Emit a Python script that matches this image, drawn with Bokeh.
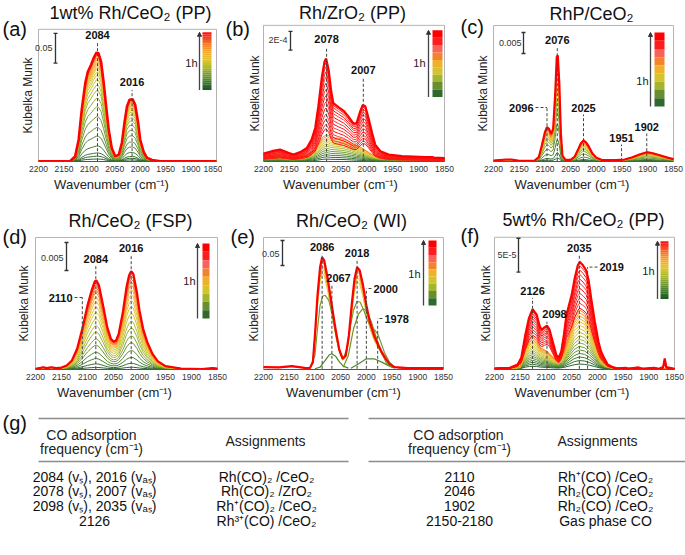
import math
from bokeh.plotting import figure
from bokeh.layouts import column, row
from bokeh.models import Range1d, FixedTicker, Label, Arrow, NormalHead
from bokeh.embed import file_html
from bokeh.resources import INLINE
from bokeh.core.properties import value

FONT = "Liberation Sans"
TICKS = [2200, 2150, 2100, 2050, 2000, 1950, 1900, 1850]

# ---------------- data ----------------
# (a) 1wt% Rh/CeO2 (PP): final spectrum after 1 h, and fractions of earlier spectra
A_WN = [2200, 2150, 2138, 2128, 2121, 2115, 2108, 2103, 2097, 2092, 2086, 2082, 2077, 2072, 2067, 2062,
        2056, 2049, 2042, 2036, 2031, 2026, 2021, 2015, 2010, 2004, 2000, 1993, 1987, 1977, 1960, 1850]
A_KM = [0, 0, 0, 0.008, 0.036, 0.086, 0.131, 0.150, 0.161, 0.172, 0.182, 0.181, 0.167, 0.133, 0.092, 0.053,
        0.022, 0.008, 0.011, 0.031, 0.064, 0.092, 0.103, 0.104, 0.095, 0.064, 0.036, 0.015, 0.006, 0.002, 0, 0]
A_FR = [0.02, 0.046, 0.076, 0.14, 0.23, 0.31, 0.41, 0.5, 0.58, 0.65, 0.70, 0.75, 0.79, 0.82, 0.85, 0.87,
        0.89, 0.91, 0.93, 0.95, 0.965, 0.98]
A_PEAKS = [2084, 2016]

# (b) Rh/ZrO2 (PP)  (units 1E-4)
B_WN = [2200, 2184, 2168, 2152, 2142, 2129, 2116, 2107, 2100, 2094, 2087, 2082, 2079, 2074, 2069, 2065, 2055,
        2045, 2036, 2026, 2020, 2013, 2008, 2003, 1997, 1990, 1984, 1974, 1958, 1932, 1887, 1874, 1870, 1850]
B_KM = [0.88, 1.12, 1.30, 0.95, 0.77, 1.02, 1.47, 2.35, 3.57, 5.85, 9.0, 10.57, 10.92, 9.7, 7.42, 6.2, 5.78,
        5.39, 4.8, 4.03, 4.1, 5.32, 6.02, 5.85, 4.62, 3.05, 1.82, 1.12, 0.77, 0.6, 0.49, 0.5, 0.45, 0.39]
B_FR = [0.32, 0.36, 0.41, 0.46, 0.52, 0.58, 0.64, 0.70, 0.76, 0.82, 0.87, 0.92, 0.96]
B_EARLY_WN = [2200, 2170, 2145, 2120, 2105, 2095, 2085, 2078, 2070, 2060, 2050, 2040, 2030, 2020, 2010, 2000,
              1990, 1975, 1950, 1900, 1850]
B_EARLY_KM = [0.6, 0.66, 0.42, 0.6, 1.12, 1.82, 2.62, 2.87, 2.62, 2.52, 2.45, 2.27, 2.0, 1.71, 1.47, 1.12,
              0.77, 0.52, 0.38, 0.31, 0.31]
B_EARLY_FR = [0.1, 0.18, 0.26, 0.34, 0.42, 0.5, 0.58, 0.65, 0.72, 0.79, 0.86, 0.93, 1.0]
B_PEAKS = [2078, 2007]

# (c) RhP/CeO2  (units 1E-3)
C_WN = [2200, 2175, 2165, 2150, 2120, 2112, 2106, 2100, 2096, 2092, 2088, 2084, 2080, 2077, 2075, 2072, 2069,
        2066, 2060, 2050, 2042, 2035, 2030, 2025, 2020, 2014, 2008, 2000, 1990, 1960, 1945, 1930, 1915, 1902,
        1890, 1875, 1860, 1850]
C_KM = [0.16, 0.4, 0.4, 0.08, 0.16, 0.95, 3.73, 6.9, 8.1, 7.7, 6.5, 7.7, 16.0, 24.8, 25.2, 18.4, 6.5,
        1.35, 0.32, 0.32, 1.1, 2.94, 4.29, 4.92, 4.5, 3.33, 1.9, 0.8, 0.32, 0.24, 0.4, 0.95, 1.67, 2.14,
        1.9, 1.35, 0.8, 0.48]
C_FR = [0.03, 0.08, 0.2, 0.35, 0.48, 0.58, 0.66, 0.72, 0.77, 0.82, 0.86, 0.9, 0.94, 0.97]
C_PEAKS = [2076, 2096, 2025, 1951, 1902]

# (d) Rh/CeO2 (FSP)  (units 1E-3)
D_WN = [2200, 2185, 2178, 2170, 2160, 2150, 2140, 2130, 2120, 2110, 2100, 2092, 2086, 2083, 2078, 2070, 2062,
        2055, 2050, 2045, 2040, 2032, 2025, 2020, 2016, 2012, 2005, 2000, 1993, 1985, 1975, 1965, 1950, 1920,
        1880, 1860, 1850]
D_KM = [0.06, 0.35, 0.18, 0.35, 0.18, 0.29, 0.65, 1.53, 3.59, 7.11, 11.23, 13.88, 15.46, 15.64, 14.76, 11.23,
        7.41, 5.35, 4.88, 5.06, 6.23, 10.05, 14.46, 16.52, 17.23, 16.82, 13.58, 10.35, 7.11, 4.76, 2.70, 1.41,
        0.53, 0.12, 0.0, 0.18, 0.12]
D_FR = [0.02, 0.06, 0.12, 0.19, 0.27, 0.34, 0.42, 0.49, 0.57, 0.64, 0.70, 0.76, 0.81, 0.86, 0.89, 0.92, 0.95, 0.97]
D_PEAKS = [2084, 2016, 2110]

# (e) Rh/CeO2 (WI)  (units 1E-2)
E_WN = [2200, 2170, 2145, 2120, 2110, 2104, 2100, 2095, 2090, 2086, 2082, 2075, 2068, 2060, 2053, 2046, 2040,
        2034, 2028, 2023, 2018, 2013, 2007, 2000, 1993, 1985, 1978, 1970, 1962, 1955, 1945, 1920, 1850]
E_KM = [0.33, 0.27, 0.53, 0.2, 0.13, 1.33, 6.67, 14.7, 20.3, 22.3, 21.7, 18.0, 13.3, 8.0, 4.0, 2.0, 2.67,
        6.67, 13.3, 18.0, 20.3, 19.7, 17.0, 12.7, 9.33, 6.67, 5.0, 3.33, 2.0, 1.0, 0.33, 0.13, 0.13]
E_FR = [0.86, 0.9, 0.93, 0.96, 0.98]
E_OLIVE_WN = [2110, 2100, 2095, 2090, 2085, 2080, 2073, 2066, 2058, 2050, 2045, 2038, 2032, 2025, 2018, 2012,
              2005, 1998, 1990, 1983, 1978, 1972, 1965, 1955, 1945, 1930]
E_OLIVE_KM = [0.13, 2.67, 8.0, 12.7, 14.5, 14.7, 13.7, 10.7, 6.0, 2.67, 2.0, 4.0, 8.0, 11.7, 13.5, 13.3,
              11.7, 9.67, 8.33, 7.67, 7.0, 5.33, 3.33, 1.33, 0.33, 0.13]
E_C1_WN = [2100, 2090, 2080, 2072, 2067, 2060, 2052, 2045, 2035]
E_C1_KM = [0.0, 0.33, 1.67, 2.8, 3.0, 2.53, 1.33, 0.53, 0.13]
E_C2_WN = [2045, 2035, 2025, 2015, 2007, 2000, 1990, 1980, 1970, 1960, 1950]
E_C2_KM = [0.33, 2.67, 8.0, 11.0, 12.0, 11.7, 9.33, 6.0, 3.0, 1.0, 0.33]
E_C3_WN = [2030, 2015, 2000, 1985, 1970, 1955, 1945]
E_C3_KM = [0.13, 1.0, 2.0, 2.0, 1.33, 0.53, 0.13]
E_PEAKS = [2086, 2018, 2067, 2000, 1978]

# (f) 5wt% Rh/CeO2 (PP)  (units 1E-5)
F_WN = [2200, 2170, 2155, 2148, 2140, 2133, 2126, 2118, 2112, 2108, 2103, 2098, 2093, 2087, 2080, 2075, 2070,
        2065, 2060, 2055, 2050, 2044, 2038, 2034, 2028, 2022, 2017, 2012, 2005, 1998, 1993, 1987, 1980, 1970,
        1960, 1945, 1940, 1920, 1912, 1890, 1880, 1872, 1869, 1866, 1850]
F_KM = [0.05, 0.15, 0.64, 1.62, 5.05, 7.5, 8.82, 7.99, 6.27, 5.78, 6.13, 6.37, 5.78, 4.07, 2.1, 1.62, 2.6,
        5.05, 8.0, 9.46, 10.9, 13.4, 15.3, 15.8, 15.3, 14.6, 13.1, 10.4, 7.0, 4.07, 2.6, 1.62, 0.64, 0.25,
        0.05, 0.15, 0.0, 0.2, 0.0, 0.15, 0.0, 0.25, 1.52, 0.25, 0.0]
F_FR = [0.567, 0.613, 0.659, 0.706, 0.752, 0.799, 0.839, 0.882, 0.923, 0.963]
F_MID_WN = [2200, 2160, 2150, 2140, 2132, 2126, 2118, 2110, 2098, 2085, 2075, 2065, 2055, 2045, 2035, 2025,
            2015, 2005, 1995, 1985, 1970, 1850]
F_MID_KM = [0.05, 0.15, 0.39, 3.09, 4.31, 4.8, 4.17, 3.09, 2.6, 1.62, 1.37, 2.6, 5.05, 7.5, 8.72, 8.23,
            6.52, 4.07, 1.62, 0.64, 0.15, 0.0]
F_MID_FR = [0.08, 0.14, 0.2, 0.26, 0.32, 0.38, 0.44, 0.5, 0.56, 0.62, 0.68, 0.74, 0.8, 0.85, 0.9, 0.95, 1.0]
F_PEAKS = [2126, 2098, 2035, 2019]

# (g) table
LEFT_FREQ = ["2084 (vₛ), 2016 (vₐₛ)", "2078 (vₛ), 2007 (vₐₛ)", "2098 (vₛ), 2035 (vₐₛ)", "2126"]
LEFT_ASSIGN = ["Rh(CO)₂ /CeO₂", "Rh(CO)₂ /ZrO₂", "Rh⁺(CO)₂ /CeO₂", "Rh³⁺(CO) /CeO₂"]
RIGHT_FREQ = ["2110", "2046", "1902", "2150-2180"]
RIGHT_ASSIGN = ["Rh⁺(CO) /CeO₂", "Rh₂(CO) /CeO₂", "Rh₂(CO) /CeO₂", "Gas phase CO"]

# ---------------- styling helpers ----------------
ANCH = ["#1f5a28", "#3f7a2a", "#6f962c", "#a6b92e", "#d9c62a", "#f0b429", "#f58a25", "#f25a2a", "#ff1010"]
BANDS = ["#ff0000", "#ff1c1c", "#f8625a", "#f5832e", "#efb02a", "#d6c22c", "#a3b52e", "#688f2e", "#2f6a2c"]


def _rgb(h):
    return [int(h[i:i + 2], 16) for i in (1, 3, 5)]


def ramp(t):
    t = min(max(t, 0.0), 1.0) * (len(ANCH) - 1)
    i = int(min(t, len(ANCH) - 2))
    f = t - i
    a, b = _rgb(ANCH[i]), _rgb(ANCH[i + 1])
    return "#%02x%02x%02x" % tuple(int(round(a[j] + (b[j] - a[j]) * f)) for j in range(3))


def spread(n, t0, t1):
    if n == 1:
        return [t1]
    return [t0 + (t1 - t0) * i / (n - 1) for i in range(n)]


def make_panel(c):
    ox, oy = c["origin"]
    W, H = c["size"]
    L, T, R, B = c["frame"]
    y0, k = c["base"], c["k"]

    def X(px):
        return 2200 + (px - L) / (R - L) * (1850 - 2200)

    def Y(py):
        return (y0 - py) * k

    bb = oy + H - B
    p = figure(width=W, height=H, x_range=Range1d(X(ox), X(ox + W)), y_range=Range1d(Y(B), Y(oy)),
               min_border_left=0, min_border_right=0, min_border_top=0, min_border_bottom=bb,
               y_axis_type=None, output_backend="svg", toolbar_location=None, title=None)
    p.grid.visible = False
    p.outline_line_color = None
    p.background_fill_color = "white"
    p.border_fill_color = "white"

    ax = p.xaxis[0]
    ax.bounds = (1850, 2200)
    ax.ticker = FixedTicker(ticks=TICKS)
    ax.major_label_text_font = FONT
    ax.major_label_text_font_size = "8.5px"
    ax.major_label_text_color = "#333333"
    ax.major_tick_in = 0
    ax.major_tick_out = 0
    ax.minor_tick_in = 0
    ax.minor_tick_out = 0
    ax.major_label_standoff = 4
    ax.axis_line_color = "#555555"
    ax.axis_label = "Wavenumber (cm⁻¹)"
    ax.axis_label_text_font = FONT
    ax.axis_label_text_font_size = "13px"
    ax.axis_label_text_font_style = "normal"
    ax.axis_label_text_color = "#222222"
    ax.axis_label_standoff = 2

    # plot box (left, top, right edges; bottom is the axis)
    p.segment(x0=[2200, 2200, 1850], y0=[Y(B), Y(T), Y(T)], x1=[2200, 1850, 1850], y1=[Y(T), Y(T), Y(B)],
              line_color="#b4b4b4", line_width=1)

    def txt(px, py, text, size, align="center", bold=False, color="#111111", angle=0.0):
        p.add_layout(Label(x=X(px), y=Y(py), text=text, text_align=align, text_baseline="middle",
                           text_font=FONT, text_font_size=size, angle=angle,
                           text_font_style="bold" if bold else "normal", text_color=color))

    # y-axis title
    txt(L - c["ylab"], (T + B) / 2, "Kubelka Munk", "12px", angle=math.pi / 2, color="#222222")

    # spectra families
    for fam in c["families"]:
        wn, km, fr, cols, lw = fam
        xs = [wn for _ in fr]
        ys = [[v * f for v in km] for f in fr]
        p.multi_line(xs, ys, line_color=cols, line_width=lw, line_alpha=0.95)
    for extra in c.get("extras", []):
        wn, km, col, lw = extra
        p.line(wn, km, line_color=col, line_width=lw)
    wn, km = c["final"]
    p.line(wn, km, line_color="#ff0000", line_width=c.get("final_w", 2.2))

    # peak markers
    for pk, (ly, top, lx, align, hook) in zip(c["peaks"], c["marks"]):
        p.segment(x0=[pk], y0=[0], x1=[pk], y1=[Y(top)], line_color="#444444", line_width=1,
                  line_dash="3 2")
        if hook is not None:
            p.segment(x0=[X(hook)], y0=[Y(top)], x1=[pk], y1=[Y(top)], line_color="#444444",
                      line_width=1, line_dash="3 2")
        p.add_layout(Label(x=pk if lx is None else X(lx), y=Y(ly), text=str(pk), text_align=align,
                           text_baseline="middle", text_font=FONT, text_font_size="11px",
                           text_font_style="bold", text_color="#111111"))

    # scale bar
    sx, sy0, sy1, stext, srx, sty = c["scale"]
    p.segment(x0=[X(sx), X(sx - 2), X(sx - 2)], y0=[Y(sy0), Y(sy0), Y(sy1)],
              x1=[X(sx), X(sx + 2), X(sx + 2)], y1=[Y(sy1), Y(sy0), Y(sy1)],
              line_color="#333333", line_width=1.3)
    txt(srx, sty, stext, "9px", align="right", color="#333333")

    # colour bar + arrow + "1h"
    cx0, cx1, cy0, cy1, nb = c["cbar"]
    if nb == 0:
        n = 30
        cols = [ramp(1 - i / (n - 1)) for i in range(n)]
    else:
        cols = BANDS
        n = len(cols)
    h = (cy1 - cy0) / n
    p.quad(left=[X(cx0)] * n, right=[X(cx1)] * n,
           top=[Y(cy0 + i * h) for i in range(n)], bottom=[Y(cy0 + (i + 1) * h) for i in range(n)],
           fill_color=cols, line_color=None)
    axp, hx, hy = c["arrow"]
    p.add_layout(Arrow(end=NormalHead(size=4, line_color="#333333", fill_color="#333333", line_width=1),
                       x_start=X(axp), y_start=Y(cy1), x_end=X(axp), y_end=Y(cy0),
                       line_color="#444444", line_width=1.3))
    txt(hx, hy, "1h", "11px", align="right", color="#222222")

    # title and panel tag
    tx, ty, ttext = c["title"]
    txt(tx, ty, ttext, "18px")
    gx, gy, gtext = c["tag"]
    txt(gx, gy, gtext, "20px", align="left")
    return p


PANELS = [
    dict(origin=(0, 0), size=(222, 195), frame=(38, 29, 216, 162), base=161.7, k=0.001667, ylab=11,
         final=(A_WN, A_KM), final_w=2.6, peaks=A_PEAKS,
         families=[(A_WN, A_KM, A_FR, [ramp(t) for t in spread(len(A_FR), 0.0, 0.82)], 1.0)],
         marks=[(35, 42, None, "center", None), (82, 90, None, "center", None)],
         scale=(55, 33, 63, "0.05", 52, 48), cbar=(202, 211, 32, 90, 0), arrow=(199, 197, 63),
         title=(130, 13, "1wt% Rh/CeO₂ (PP)"), tag=(2, 29, "(a)")),
    dict(origin=(222, 0), size=(236, 195), frame=(263, 25, 444, 162), base=162.3, k=0.105, ylab=9,
         final=(B_WN, B_KM), peaks=B_PEAKS,
         families=[(B_EARLY_WN, B_EARLY_KM, B_EARLY_FR,
                    [ramp(t) for t in spread(len(B_EARLY_FR), 0.0, 0.75)], 1.0),
                   (B_WN, B_KM, B_FR, ["#ff2a2a" if i % 2 else "#ff0000" for i in range(len(B_FR))], 1.0)],
         marks=[(39, 47, None, "center", None), (70, 78, None, "center", None)],
         scale=(290, 31, 50, "2E-4", 287, 40), cbar=(432, 442, 30, 97, 1), arrow=(428, 425, 63),
         title=(352, 13, "Rh/ZrO₂ (PP)"), tag=(225, 29, "(b)")),
    dict(origin=(458, 0), size=(227, 195), frame=(493, 25, 673, 161), base=160.7, k=0.238, ylab=11,
         final=(C_WN, C_KM), peaks=C_PEAKS,
         families=[(C_WN, C_KM, C_FR, [ramp(t) for t in spread(len(C_FR), 0.0, 0.92)], 1.0)],
         marks=[(39, 47, None, "center", None), (107, 107, 533, "right", 535),
                (107, 114, None, "center", None), (137, 144, None, "center", None),
                (126, 133, None, "center", None)],
         scale=(523, 32, 53, "0.005", 521, 42), cbar=(654, 664, 32, 106, 1), arrow=(650, 648, 80),
         title=(591, 13, "RhP/CeO₂"), tag=(460, 26, "(c)")),
    dict(origin=(0, 195), size=(228, 207), frame=(35, 237, 217, 369), base=368.7, k=0.176, ylab=12,
         final=(D_WN, D_KM), peaks=D_PEAKS,
         families=[(D_WN, D_KM, D_FR, [ramp(t) for t in spread(len(D_FR), 0.0, 0.95)], 1.0)],
         marks=[(258, 265, None, "center", None), (247, 254, None, "center", None),
                (297, 297, 72, "right", 74)],
         scale=(66, 242, 270, "0.005", 63, 257), cbar=(202, 209, 243, 318, 1), arrow=(197, 195, 280),
         title=(130, 220, "Rh/CeO₂ (FSP)"), tag=(2, 236, "(d)")),
    dict(origin=(228, 195), size=(230, 207), frame=(263, 237, 443, 369), base=368.3, k=0.2, ylab=10,
         final=(E_WN, E_KM), peaks=E_PEAKS,
         families=[(E_WN, E_KM, E_FR, [ramp(t) for t in spread(len(E_FR), 0.5, 0.88)], 1.0)],
         extras=[(E_C1_WN, E_C1_KM, "#4f8a2a", 1.2), (E_C3_WN, E_C3_KM, "#4f8a2a", 1.2),
                 (E_C2_WN, E_C2_KM, "#6f962c", 1.2), (E_OLIVE_WN, E_OLIVE_KM, "#7d9a2c", 1.2)],
         marks=[(246, 253, None, "center", None), (252, 259, None, "center", None),
                (277, 284, 338, "center", None), (288, 288, 373, "left", 371),
                (318, 318, 384, "left", 382)],
         scale=(282, 240, 265, "0.05", 279, 253), cbar=(428, 436, 240, 305, 1), arrow=(423, 420, 273),
         title=(351, 220, "Rh/CeO₂ (WI)"), tag=(230, 236, "(e)")),
    dict(origin=(458, 195), size=(227, 207), frame=(494, 237, 674, 370), base=369.3, k=0.147, ylab=9,
         final=(F_WN, F_KM), peaks=F_PEAKS,
         families=[(F_MID_WN, F_MID_KM, F_MID_FR, [ramp(t) for t in spread(len(F_MID_FR), 0.0, 0.78)], 1.0),
                   (F_WN, F_KM, F_FR, ["#ff2a2a" if i % 2 else "#ff0000" for i in range(len(F_FR))], 1.0)],
         marks=[(291, 298, None, "center", None), (314, 322, 554, "center", None),
                (248, 255, None, "center", None), (267, 267, 599, "left", 597)],
         scale=(518, 238, 272, "5E-5", 516, 255), cbar=(660, 668, 241, 299, 0), arrow=(657, 654, 271),
         title=(583, 220, "5wt% Rh/CeO₂ (PP)"), tag=(460, 236, "(f)")),
]

figs = [make_panel(c) for c in PANELS]

# ---------------- table (g) ----------------
g = figure(width=685, height=153, x_range=Range1d(0, 685), y_range=Range1d(555, 402), min_border=0,
           x_axis_type=None, y_axis_type=None, output_backend="svg", toolbar_location=None, title=None)
g.outline_line_color = None
g.segment(x0=[38, 368, 38, 368], y0=[418, 418, 461, 461], x1=[348, 685, 348, 685], y1=[418, 418, 461, 461],
          line_color="#8c8c8c", line_width=1.5)
hdr_x = [91, 91, 265, 458, 459, 597]
hdr_y = [434, 448, 440, 434, 448, 440]
hdr_t = ["CO adsorption", "frequency (cm⁻¹)", "Assignments", "CO adsorption", "frequency (cm⁻¹)", "Assignments"]
g.text(x=hdr_x, y=hdr_y, text=hdr_t, text_align="center", text_baseline="middle", text_font=value(FONT),
       text_font_size="14px", text_color="#222222")
rows_y = [476 + i * 14.8 for i in range(len(LEFT_FREQ))]
cells_t = LEFT_FREQ + LEFT_ASSIGN + RIGHT_FREQ + RIGHT_ASSIGN
cells_x = [94] * len(LEFT_FREQ) + [266] * len(LEFT_ASSIGN) + [459] * len(RIGHT_FREQ) + [605] * len(RIGHT_ASSIGN)
cells_y = rows_y * 4
g.text(x=cells_x, y=cells_y, text=cells_t, text_align="center", text_baseline="middle", text_font=value(FONT),
       text_font_size="14px", text_color="#111111")
g.text(x=[2], y=[422], text=["(g)"], text_align="left", text_baseline="middle", text_font=value(FONT),
       text_font_size="20px", text_color="#111111")

layout = column(row(figs[0], figs[1], figs[2]), row(figs[3], figs[4], figs[5]), g)
open("out.html", "w").write(file_html(layout, INLINE))
